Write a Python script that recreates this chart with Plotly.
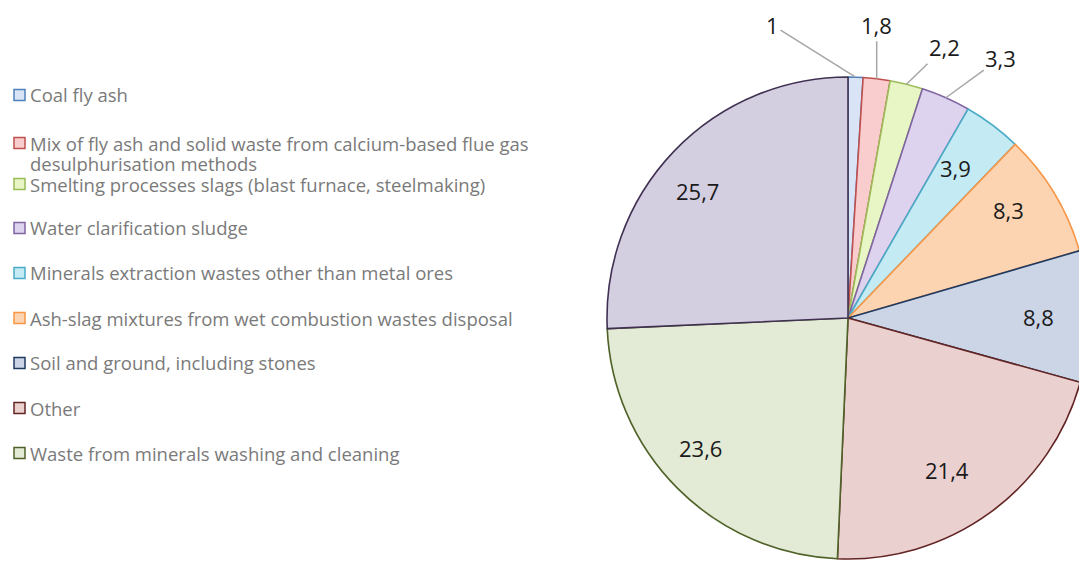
import math
import plotly.graph_objects as go

# ---------------- data ----------------
categories = [
    "Coal fly ash",
    "Mix of fly ash and solid waste from calcium-based flue gas<br>desulphurisation methods",
    "Smelting processes slags (blast furnace, steelmaking)",
    "Water clarification sludge",
    "Minerals extraction wastes other than metal ores",
    "Ash-slag mixtures from wet combustion wastes disposal",
    "Soil and ground, including stones",
    "Other",
    "Waste from minerals washing and cleaning",
    "(not in legend)",
]
values = [1, 1.8, 2.2, 3.3, 3.9, 8.3, 8.8, 21.4, 23.6, 25.7]
value_labels = [f"{v:g}".replace(".", ",") for v in values]

fill_colors = ["#d9e5f6", "#f9cdcd", "#e8f5c4", "#ddd3ee", "#c4eaf4",
               "#fcd4b2", "#cbd5e6", "#ebd0d0", "#e3ead5", "#d4cee1"]
line_colors = ["#4f81bd", "#c0504d", "#9bbb59", "#8064a2", "#4bacc6",
               "#f79646", "#1f3a60", "#632523", "#4f6228", "#403152"]
outside = [True, True, True, True, False, False, False, False, False, False]
# pixel offsets of the outside labels from the slice edge (style)
out_offsets = {0: (-83, -52), 1: (0, -54), 2: (38, -37), 3: (55, -40)}

# ---------------- geometry (layout constants) ----------------
W, H = 1100, 561
CX, CY, R = 848, 318, 241
INSIDE_FRAC = 0.865
LABEL_FONT = dict(family="Open Sans", size=22, color="#1a1a1a")
LEGEND_FONT = dict(family="Open Sans", size=18.5, color="#7a7a7a")

fig = go.Figure()
fig.add_trace(go.Pie(
    labels=categories,
    values=values,
    sort=False,
    direction="clockwise",
    rotation=0,
    textinfo="none",
    hoverinfo="label+value",
    showlegend=False,
    marker=dict(colors=fill_colors, line=dict(color=line_colors, width=1.6)),
    domain=dict(x=[(CX - R) / W, (CX + R) / W],
                y=[(H - CY - R) / H, (H - CY + R) / H]),
))

annotations = []
shapes = []
total = sum(values)
cum = 0.0
for i, v in enumerate(values):
    mid = (cum + v / 2) / total * 2 * math.pi
    cum += v
    sx, sy = math.sin(mid), math.cos(mid)
    if outside[i]:
        px = CX + R * sx
        py = CY - R * sy
        ax, ay = out_offsets[i]
        annotations.append(dict(
            x=px / W, y=(H - py) / H, xref="paper", yref="paper",
            text=value_labels[i], showarrow=True, arrowhead=0,
            arrowwidth=1.5, arrowcolor="#a6a6a6", ax=ax, ay=ay,
            standoff=0, font=LABEL_FONT,
        ))
    else:
        px = CX + R * INSIDE_FRAC * sx
        py = CY - R * INSIDE_FRAC * sy
        annotations.append(dict(
            x=px / W, y=(H - py) / H, xref="paper", yref="paper",
            text=value_labels[i], showarrow=False, font=LABEL_FONT,
        ))

# ---------------- manual legend ----------------
legend_y = [95, 143, 184, 228, 273, 318, 363, 408, 453]
LINE_STEP = 20
for i, ypx in enumerate(legend_y):
    shapes.append(dict(
        type="rect", xref="paper", yref="paper",
        x0=14 / W, x1=25 / W, y0=(H - ypx - 5.5) / H, y1=(H - ypx + 5.5) / H,
        fillcolor=fill_colors[i], line=dict(color=line_colors[i], width=1.5),
    ))
    for k, line in enumerate(categories[i].split("<br>")):
        annotations.append(dict(
            x=29 / W, y=(H - ypx - k * LINE_STEP) / H, xref="paper", yref="paper",
            xanchor="left", yanchor="middle", borderpad=0,
            text=line, showarrow=False, align="left", font=LEGEND_FONT,
        ))

fig.update_layout(
    width=W, height=H,
    margin=dict(l=0, r=0, t=0, b=0),
    paper_bgcolor="white", plot_bgcolor="white",
    annotations=annotations, shapes=shapes,
    separators=",.",
)

fig.write_html(
    "out.html",
    config={"displayModeBar": False},
    post_script="document.body.style.margin='0';document.body.style.overflow='hidden';",
)
